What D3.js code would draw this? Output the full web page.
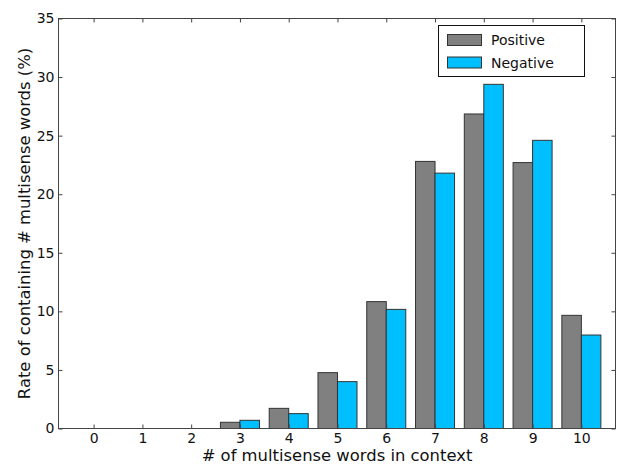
<!DOCTYPE html>
<html>
<head>
<meta charset="utf-8">
<script src="https://cdn.jsdelivr.net/npm/d3@7"></script>
<style>
  html, body { margin: 0; padding: 0; background: #fff; }
  svg { display: block; font-family: "DejaVu Sans", sans-serif; }
</style>
</head>
<body>
<svg id="chart" width="623" height="464"></svg>
<script>
const categories = [0, 1, 2, 3, 4, 5, 6, 7, 8, 9, 10];
const positive = [0, 0, 0, 0.53, 1.72, 4.77, 10.83, 22.8, 26.85, 22.7, 9.66];
const negative = [0, 0, 0, 0.70, 1.27, 4.0, 10.17, 21.8, 29.38, 24.6, 7.98];
const yTicks = [0, 5, 10, 15, 20, 25, 30, 35];
const seriesNames = ["Positive", "Negative"];
const colors = ["#808080", "#00bfff"];

(function () {
const svg = d3.select("#chart");
const pl = 58.5, pr = 615.5, pt = 18.5, pb = 428.5;

const x = d3.scaleLinear().domain([-0.72, 10.7]).range([pl, pr]);
const y = d3.scaleLinear().domain([0, 35]).range([pb, pt]);
const barW = 0.4;

const series = [positive, negative];
series.forEach((vals, s) => {
  svg.append("g").selectAll("rect")
    .data(categories.map((c, i) => ({c, v: vals[i]})).filter(d => d.v > 0))
    .join("rect")
    .attr("x", d => x(d.c + (s === 0 ? -barW : 0)))
    .attr("width", d => x(d.c + barW) - x(d.c))
    .attr("y", d => y(d.v))
    .attr("height", d => y(0) - y(d.v))
    .attr("fill", colors[s])
    .attr("stroke", "#333")
    .attr("stroke-width", 1);
});

const tickLen = 4;
const axisColor = "#444";
const xAxisB = d3.axisBottom(x).tickValues(categories).tickSizeInner(-tickLen).tickSizeOuter(0).tickPadding(5);
const xAxisT = d3.axisTop(x).tickValues(categories).tickSizeInner(-tickLen).tickSizeOuter(0).tickFormat("");
const yAxisL = d3.axisLeft(y).tickValues(yTicks).tickSizeInner(-tickLen).tickSizeOuter(0).tickPadding(4);
const yAxisR = d3.axisRight(y).tickValues(yTicks).tickSizeInner(-tickLen).tickSizeOuter(0).tickFormat("");

function style(g) {
  g.select(".domain").remove();
  g.selectAll("line").attr("stroke", axisColor);
  g.selectAll("text").attr("fill", "#111").style("font-size", "14px").style("font-family", "DejaVu Sans");
}
svg.append("g").attr("transform", `translate(0,${pb})`).call(xAxisB).call(style);
svg.append("g").attr("transform", `translate(0,${pt})`).call(xAxisT).call(style);
svg.append("g").attr("transform", `translate(${pl},0)`).call(yAxisL).call(style);
svg.append("g").attr("transform", `translate(${pr},0)`).call(yAxisR).call(style);

svg.append("rect").attr("x", pl).attr("y", pt).attr("width", pr - pl).attr("height", pb - pt)
  .attr("fill", "none").attr("stroke", axisColor).attr("stroke-width", 1);

svg.append("text").attr("x", (pl + pr) / 2).attr("y", 461).attr("text-anchor", "middle")
  .style("font-size", "16.4px").attr("fill", "#111").text("# of multisense words in context");
svg.append("text").attr("transform", `translate(30,${(pt + pb) / 2}) rotate(-90)`).attr("text-anchor", "middle")
  .style("font-size", "16.4px").attr("fill", "#111").text("Rate of containing # multisense words (%)");

const lg = svg.append("g");
lg.append("rect").attr("x", 438.5).attr("y", 25.5).attr("width", 146).attr("height", 51)
  .attr("fill", "#fff").attr("stroke", "#111").attr("stroke-width", 1);
seriesNames.forEach((n, i) => {
  const yy = 34.5 + i * 22.5;
  lg.append("rect").attr("x", 447.5).attr("y", yy).attr("width", 34).attr("height", 11)
    .attr("fill", colors[i]).attr("stroke", "#333").attr("stroke-width", 1);
  lg.append("text").attr("x", 491).attr("y", yy + 10.5).style("font-size", "14px").attr("fill", "#111").text(n);
});
})();
</script>
</body>
</html>
